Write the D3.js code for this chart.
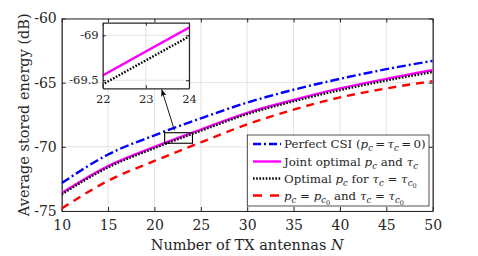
<!DOCTYPE html>
<html>
<head>
<meta charset="utf-8">
<script src="https://cdn.jsdelivr.net/npm/d3@7"></script>
<style>
  body { margin: 0; background: #fff; }
</style>
</head>
<body>
<div id="chart"></div>
<script>
// Average stored energy vs number of TX antennas

const antennas = [10, 15, 20, 25, 30, 35, 40, 45, 50];
const perfectCsi = [-72.83, -70.6, -69.1, -67.78, -66.55, -65.55, -64.7, -63.95, -63.3];
const jointOpt = [-73.6, -71.5, -70.0, -68.65, -67.35, -66.35, -65.45, -64.7, -64.03];
const optPc = [-73.7, -71.6, -70.1, -68.75, -67.45, -66.45, -65.58, -64.83, -64.17];
const fixedPcTau = [-74.8, -72.65, -71.1, -69.65, -68.25, -67.1, -66.15, -65.45, -64.88];

const xTicks = [10, 15, 20, 25, 30, 35, 40, 45, 50];
const yTicks = [-75, -70, -65, -60];
const insetXTicks = [22, 23, 24];
const insetYTicks = [-69.5, -69];
const zoomBoxN = [21.1, 24.1];
const zoomBoxV = [-69.72, -68.9];

const W = 478, H = 256;
const margin = { top: 18.5, right: 45.3, bottom: 45, left: 61.7 };
const fontFam = 'DejaVu Serif, Liberation Serif, serif';

const series = [
  { name: 'perfect', values: perfectCsi, color: '#0000ff', dash: '9,3,2,3', legendDash: '8,3,2,3' },
  { name: 'joint', values: jointOpt, color: '#ff00ff', dash: null, legendDash: null },
  { name: 'optpc', values: optPc, color: '#000000', dash: '1.6,1.6', legendDash: '1.6,1.6' },
  { name: 'fixed', values: fixedPcTau, color: '#ff0000', dash: '8,6', legendDash: '9,8' }
];

const svg = d3.select('#chart').append('svg')
  .attr('width', W)
  .attr('height', H)
  .attr('font-family', fontFam);

const x = d3.scaleLinear().domain([10, 50]).range([margin.left, W - margin.right]);
const y = d3.scaleLinear().domain([-75, -60]).range([H - margin.bottom, margin.top]);

const defs = svg.append('defs');
defs.append('clipPath').attr('id', 'mainClip')
  .append('rect')
  .attr('x', x(10)).attr('y', y(-60))
  .attr('width', x(50) - x(10)).attr('height', y(-75) - y(-60));

// grid
const grid = svg.append('g').attr('stroke', '#e3e3e3').attr('stroke-width', 1);
grid.selectAll('.gx').data(xTicks).enter().append('line')
  .attr('x1', d => x(d)).attr('x2', d => x(d))
  .attr('y1', y(-75)).attr('y2', y(-60));
grid.selectAll('.gy').data(yTicks).enter().append('line')
  .attr('x1', x(10)).attr('x2', x(50))
  .attr('y1', d => y(d)).attr('y2', d => y(d));

// axes (ticks point inward, MATLAB style)
const axisColor = '#262626';
const fontSize = 14;

const styleAxis = (a, size) => {
  a.attr('font-family', fontFam);
  a.select('.domain').attr('stroke', axisColor).attr('stroke-width', 1.2);
  a.selectAll('.tick line').attr('stroke', axisColor);
  a.selectAll('.tick text').attr('font-size', size).attr('fill', axisColor);
};

const xAxis = svg.append('g')
  .attr('transform', `translate(0,${y(-75)})`)
  .call(d3.axisBottom(x).tickValues(xTicks).tickSizeInner(-4).tickSizeOuter(0).tickPadding(9));
const xAxisTop = svg.append('g')
  .attr('transform', `translate(0,${y(-60)})`)
  .call(d3.axisTop(x).tickValues(xTicks).tickSizeInner(-4).tickSizeOuter(0).tickFormat(''));
const yAxis = svg.append('g')
  .attr('transform', `translate(${x(10)},0)`)
  .call(d3.axisLeft(y).tickValues(yTicks).tickSizeInner(-4).tickSizeOuter(0).tickPadding(5)
    .tickFormat(d => d));
const yAxisRight = svg.append('g')
  .attr('transform', `translate(${x(50)},0)`)
  .call(d3.axisRight(y).tickValues(yTicks).tickSizeInner(-4).tickSizeOuter(0).tickFormat(''));

[xAxis, xAxisTop, yAxis, yAxisRight].forEach(a => styleAxis(a, fontSize));

// curves
const line = d3.line()
  .x((d, i) => x(antennas[i]))
  .y(d => y(d))
  .curve(d3.curveMonotoneX);

const curves = svg.append('g').attr('clip-path', 'url(#mainClip)');
series.forEach(s => {
  curves.append('path')
    .datum(s.values)
    .attr('d', line)
    .attr('fill', 'none')
    .attr('stroke', s.color)
    .attr('stroke-width', 2.4)
    .attr('stroke-dasharray', s.dash);
});

// zoom rectangle on main plot
svg.append('rect')
  .attr('x', x(zoomBoxN[0])).attr('y', y(zoomBoxV[1]))
  .attr('width', x(zoomBoxN[1]) - x(zoomBoxN[0]))
  .attr('height', y(zoomBoxV[0]) - y(zoomBoxV[1]))
  .attr('fill', 'none').attr('stroke', '#000').attr('stroke-width', 1.1);

// labels
svg.append('text')
  .attr('x', (x(10) + x(50)) / 2)
  .attr('y', 250)
  .attr('text-anchor', 'middle')
  .attr('font-size', 14.5)
  .attr('fill', axisColor)
  .html('Number of TX antennas <tspan font-style="italic">N</tspan>');

svg.append('text')
  .attr('transform', `translate(29,${(y(-60) + y(-75)) / 2}) rotate(-90)`)
  .attr('text-anchor', 'middle')
  .attr('font-size', 14.5)
  .attr('fill', axisColor)
  .text('Average stored energy (dB)');

// inset
const inset = { left: 102.7, right: 189, top: 22.7, bottom: 88.3 };
const xi = d3.scaleLinear().domain([22, 24]).range([inset.left, inset.right]);
const yi = d3.scaleLinear().domain([-69.59, -68.86]).range([inset.bottom, inset.top]);

defs.append('clipPath').attr('id', 'insetClip')
  .append('rect')
  .attr('x', inset.left).attr('y', inset.top)
  .attr('width', inset.right - inset.left).attr('height', inset.bottom - inset.top);

const ig = svg.append('g');
ig.append('rect')
  .attr('x', inset.left).attr('y', inset.top)
  .attr('width', inset.right - inset.left).attr('height', inset.bottom - inset.top)
  .attr('fill', '#fff');
ig.selectAll('.igx').data(insetXTicks).enter().append('line')
  .attr('x1', d => xi(d)).attr('x2', d => xi(d))
  .attr('y1', inset.top).attr('y2', inset.bottom)
  .attr('stroke', '#e3e3e3');
ig.selectAll('.igy').data(insetYTicks).enter().append('line')
  .attr('x1', inset.left).attr('x2', inset.right)
  .attr('y1', d => yi(d)).attr('y2', d => yi(d))
  .attr('stroke', '#e3e3e3');

const insetLine = d3.line()
  .x((d, i) => xi(antennas[i]))
  .y(d => yi(d))
  .curve(d3.curveMonotoneX);

const insetCurves = ig.append('g').attr('clip-path', 'url(#insetClip)');
series.filter(s => s.name === 'joint' || s.name === 'optpc').forEach(s => {
  insetCurves.append('path')
    .datum(s.values)
    .attr('d', insetLine)
    .attr('fill', 'none')
    .attr('stroke', s.color)
    .attr('stroke-width', 2.4)
    .attr('stroke-dasharray', s.dash);
});

const ixAxis = ig.append('g')
  .attr('transform', `translate(0,${inset.bottom})`)
  .call(d3.axisBottom(xi).tickValues(insetXTicks).tickSizeInner(-3).tickSizeOuter(0).tickPadding(7)
    .tickFormat(d3.format('d')));
const ixAxisTop = ig.append('g')
  .attr('transform', `translate(0,${inset.top})`)
  .call(d3.axisTop(xi).tickValues(insetXTicks).tickSizeInner(-3).tickSizeOuter(0).tickFormat(''));
const iyAxis = ig.append('g')
  .attr('transform', `translate(${inset.left},0)`)
  .call(d3.axisLeft(yi).tickValues(insetYTicks).tickSizeInner(-3).tickSizeOuter(0).tickPadding(4)
    .tickFormat(d => d));
const iyAxisRight = ig.append('g')
  .attr('transform', `translate(${inset.right},0)`)
  .call(d3.axisRight(yi).tickValues(insetYTicks).tickSizeInner(-3).tickSizeOuter(0).tickFormat(''));

[ixAxis, ixAxisTop, iyAxis, iyAxisRight].forEach(a => styleAxis(a, 11.5));

// arrow from zoom box to inset
defs.append('marker')
  .attr('id', 'arrowhead')
  .attr('viewBox', '0 -5 10 10')
  .attr('refX', 10)
  .attr('refY', 0)
  .attr('markerWidth', 7)
  .attr('markerHeight', 7)
  .attr('markerUnits', 'userSpaceOnUse')
  .attr('orient', 'auto')
  .append('path')
  .attr('d', 'M0,-4L10,0L0,4L2.5,0Z')
  .attr('fill', '#000');

svg.append('line')
  .attr('x1', 174.5).attr('y1', 130.5)
  .attr('x2', 161.7).attr('y2', 89.5)
  .attr('stroke', '#000').attr('stroke-width', 0.9)
  .attr('marker-end', 'url(#arrowhead)');

// legend
const legend = svg.append('g');
legend.append('rect')
  .attr('x', 247.3).attr('y', 135)
  .attr('width', 181.7).attr('height', 71)
  .attr('fill', '#fff').attr('stroke', '#262626').attr('stroke-width', 0.8);

// label segments: [text, italic, level] where level 0 = baseline, 1 = subscript, 2 = sub-subscript
const P = (t) => [t, false, 0];
const I = (t) => [t, true, 0];
const S = (t) => [t, true, 1];
const S0 = (t) => [t, false, 2];
const legendLabels = [
  [P('Perfect CSI ('), I('p'), S('c'), P('\u2009=\u2009'), I('τ'), S('c'), P('\u2009=\u20090)')],
  [P('Joint optimal '), I('p'), S('c'), P(' and '), I('τ'), S('c')],
  [P('Optimal '), I('p'), S('c'), P(' for '), I('τ'), S('c'), P(' = '), I('τ'), S('c'), S0('0')],
  [I('p'), S('c'), P(' = '), I('p'), S('c'), S0('0'), P(' and '), I('τ'), S('c'), P(' = '), I('τ'), S('c'), S0('0')]
];
const levelShift = [0, 3, 5];
const levelSize = [11.8, 8.5, 6.5];
const legendY = [144, 161.5, 178.5, 195.5];

series.forEach((s, i) => {
  legend.append('line')
    .attr('x1', 253).attr('x2', 281)
    .attr('y1', legendY[i]).attr('y2', legendY[i])
    .attr('stroke', s.color)
    .attr('stroke-width', 2.4)
    .attr('stroke-dasharray', s.legendDash);
  const t = legend.append('text')
    .attr('x', 284)
    .attr('y', legendY[i] + 4.3)
    .attr('font-size', levelSize[0])
    .attr('fill', axisColor);
  let prev = 0;
  legendLabels[i].forEach(([txt, ital, lvl]) => {
    t.append('tspan')
      .attr('dy', levelShift[lvl] - prev)
      .attr('font-size', levelSize[lvl])
      .attr('font-style', ital ? 'italic' : 'normal')
      .text(txt);
    prev = levelShift[lvl];
  });
});
</script>
</body>
</html>
